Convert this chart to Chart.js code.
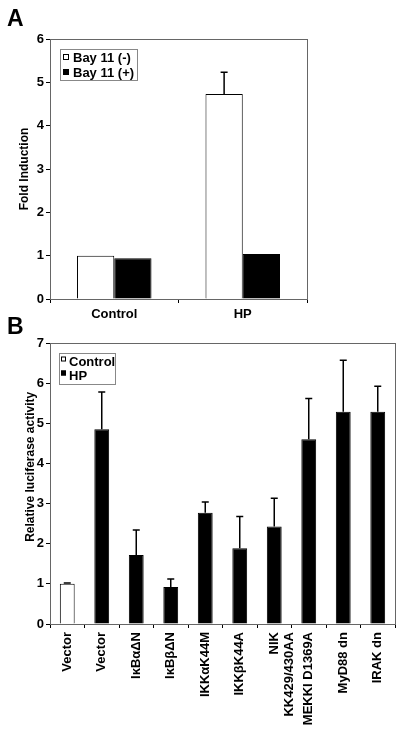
<!DOCTYPE html>
<html><head><meta charset="utf-8">
<script src="https://cdn.jsdelivr.net/npm/chart.js@4"></script>
<style>
html,body{margin:0;padding:0;background:#fff;width:403px;height:734px;overflow:hidden;font-family:'Liberation Sans',Arial,sans-serif}
.wrap{position:absolute;left:0;width:403px}
#wa{top:0;height:326px}
#wb{top:325px;height:409px}
.plab{position:absolute;font-weight:bold;font-size:23px;left:7px;line-height:1;color:#000;z-index:2}
</style></head><body>
<div class="wrap" id="wa"><canvas id="ca" width="403" height="326"></canvas></div>
<div class="wrap" id="wb"><canvas id="cb" width="403" height="409"></canvas></div>
<div class="plab" style="top:7px">A</div>
<div class="plab" style="top:315px">B</div>
<script>
// ---- Panel A data ----
const categoriesA = ['Control', 'HP'];
const bay11Minus = [1.0, 4.73];
const bay11MinusErr = [null, 5.23];
const bay11Plus = [0.94, 1.04];
const bay11PlusErr = [null, null];

// ---- Panel B data ----
const categoriesB = ['Vector', 'Vector', 'IκBαΔN', 'IκBβΔN', 'IKKαK44M', 'IKKβK44A', ['NIK', 'KK429/430AA'], 'MEKKI D1369A', 'MyD88 dn', 'IRAK dn'];
const controlVals = [1.0, null, null, null, null, null, null, null, null, null];
const controlErr = [1.02, null, null, null, null, null, null, null, null, null];
const hpVals = [null, 4.85, 1.72, 0.92, 2.77, 1.89, 2.43, 4.60, 5.29, 5.29];
const hpErr = [null, 5.78, 2.34, 1.12, 3.04, 2.68, 3.13, 5.62, 6.57, 5.92];

const FONT = '"Liberation Sans", Arial, sans-serif';
Chart.defaults.font.family = FONT;
Chart.defaults.color = '#000';

const errorBars = {
  id: 'errorBars',
  afterDatasetsDraw(chart) {
    const ctx = chart.ctx, ys = chart.scales.y;
    chart.data.datasets.forEach((ds, di) => {
      if (!ds.errTop) return;
      const meta = chart.getDatasetMeta(di);
      meta.data.forEach((bar, i) => {
        const e = ds.errTop[i], v = ds.data[i];
        if (e == null || v == null) return;
        const yTop = ys.getPixelForValue(e);
        ctx.save();
        ctx.strokeStyle = '#000';
        ctx.lineWidth = 1.5;
        ctx.beginPath();
        ctx.moveTo(bar.x, bar.y);
        ctx.lineTo(bar.x, yTop);
        ctx.moveTo(bar.x - 3.5, yTop);
        ctx.lineTo(bar.x + 3.5, yTop);
        ctx.stroke();
        ctx.restore();
      });
    });
  }
};

const frame = {
  id: 'frame',
  beforeDatasetsDraw(chart) {
    const ca = chart.chartArea, ctx = chart.ctx;
    ctx.save();
    ctx.strokeStyle = '#666';
    ctx.lineWidth = 1;
    ctx.strokeRect(Math.round(ca.left) + 0.5, Math.round(ca.top) + 0.5, Math.round(ca.right - ca.left), Math.round(ca.bottom - ca.top));
    ctx.restore();
  }
};

const boxLegend = {
  id: 'boxLegend',
  afterDraw(chart, args, o) {
    const ca = chart.chartArea, ctx = chart.ctx;
    const x = Math.round(ca.left + o.dx), y = Math.round(ca.top + o.dy);
    ctx.save();
    ctx.fillStyle = '#fff';
    ctx.fillRect(x, y, o.w, o.h);
    ctx.strokeStyle = '#888';
    ctx.lineWidth = 1;
    ctx.strokeRect(x + 0.5, y + 0.5, o.w, o.h);
    ctx.font = 'bold 13px ' + FONT;
    ctx.textBaseline = 'middle';
    chart.data.datasets.forEach((ds, i) => {
      const ry = y + o.rows[i];
      ctx.fillStyle = ds.backgroundColor;
      ctx.fillRect(x + o.mx, ry - o.ms / 2 + o.my, o.ms, o.ms);
      ctx.strokeStyle = '#000';
      ctx.strokeRect(x + o.mx + 0.5, ry - o.ms / 2 + o.my + 0.5, o.ms - 1, o.ms - 1);
      ctx.fillStyle = '#000';
      ctx.fillText(ds.label, x + o.tx, ry + 1);
    });
    ctx.restore();
  }
};

const tickFont = { size: 13, weight: 'bold' };

new Chart(document.getElementById('ca'), {
  type: 'bar',
  data: {
    labels: categoriesA,
    datasets: [
      { label: 'Bay 11 (-)', data: bay11Minus, errTop: bay11MinusErr, backgroundColor: '#fff', borderColor: '#000', borderWidth: 1, categoryPercentage: 0.58, barPercentage: 1 },
      { label: 'Bay 11 (+)', data: bay11Plus, errTop: bay11PlusErr, backgroundColor: '#000', borderColor: '#000', borderWidth: 1, categoryPercentage: 0.58, barPercentage: 1 }
    ]
  },
  options: {
    responsive: false, animation: false,
    layout: { padding: { top: 39, right: 96, left: 0, bottom: 0 } },
    plugins: {
      legend: { display: false }, tooltip: { enabled: false },
      boxLegend: { dx: 10, dy: 10, w: 77, h: 31, rows: [8, 23], mx: 3, my: 0, ms: 6, tx: 13 }
    },
    scales: {
      x: {
        grid: { display: true, drawOnChartArea: false, tickLength: 4, color: '#000' },
        border: { color: '#000' },
        ticks: { color: '#000', font: tickFont, padding: 4 },
        afterFit: s => { s.height = 27; }
      },
      y: {
        min: 0, max: 6,
        ticks: { stepSize: 1, color: '#000', font: tickFont, padding: 2 },
        grid: { drawOnChartArea: false, tickLength: 4, color: '#000' },
        border: { color: '#000' },
        title: { display: true, text: 'Fold Induction', color: '#000', font: { size: 12, weight: 'bold' }, padding: { top: 17, bottom: 0 } },
        afterFit: s => { s.width = 50; }
      }
    }
  },
  plugins: [frame, errorBars, boxLegend]
});

new Chart(document.getElementById('cb'), {
  type: 'bar',
  data: {
    labels: categoriesB,
    datasets: [
      { label: 'Control', data: controlVals, errTop: controlErr, backgroundColor: '#fff', borderColor: '#000', borderWidth: 1, skipNull: true, categoryPercentage: 1, barPercentage: 0.43 },
      { label: 'HP', data: hpVals, errTop: hpErr, backgroundColor: '#000', borderColor: '#000', borderWidth: 1, skipNull: true, categoryPercentage: 1, barPercentage: 0.43 }
    ]
  },
  options: {
    responsive: false, animation: false,
    layout: { padding: { top: 18, right: 8, left: 0, bottom: 0 } },
    plugins: {
      legend: { display: false }, tooltip: { enabled: false },
      boxLegend: { dx: 9, dy: 10, w: 56, h: 31, rows: [8, 22], mx: 2, my: -2, ms: 5, tx: 10 }
    },
    scales: {
      x: {
        grid: { display: true, drawOnChartArea: false, tickLength: 4, color: '#000' },
        border: { color: '#000' },
        ticks: { color: '#000', font: { size: 13, weight: 'bold', lineHeight: 1.15 }, padding: 4, minRotation: 90, maxRotation: 90, autoSkip: false },
        afterFit: s => { s.height = 110; }
      },
      y: {
        min: 0, max: 7,
        ticks: { stepSize: 1, color: '#000', font: tickFont, padding: 2 },
        grid: { drawOnChartArea: false, tickLength: 4, color: '#000' },
        border: { color: '#000' },
        title: { display: true, text: '          Relative luciferase activity', color: '#000', font: { size: 12, weight: 'bold' }, padding: { top: 23, bottom: 0 } },
        afterFit: s => { s.width = 50; }
      }
    }
  },
  plugins: [frame, errorBars, boxLegend]
});
</script>
</body></html>
